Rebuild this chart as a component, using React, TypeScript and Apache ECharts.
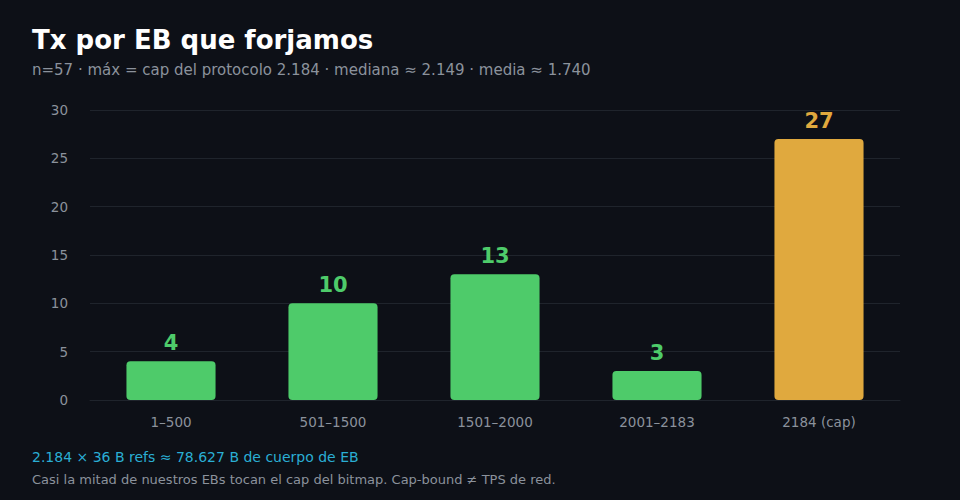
import React, { useEffect, useRef } from "react";
import * as echarts from "echarts";

const categories = ["1–500", "501–1500", "1501–2000", "2001–2183", "2184 (cap)"];
const counts = [4, 10, 13, 3, 27];
const barColors = ["#4ecb6a", "#4ecb6a", "#4ecb6a", "#4ecb6a", "#e0a93e"];
const yTicks = { min: 0, max: 30, interval: 5 };

const title = "Tx por EB que forjamos";
const subtitle = "n=57 · máx = cap del protocolo 2.184 · mediana ≈ 2.149 · media ≈ 1.740";
const note1 = "2.184 × 36 B refs ≈ 78.627 B de cuerpo de EB";
const note2 = "Casi la mitad de nuestros EBs tocan el cap del bitmap. Cap-bound ≠ TPS de red.";

const FONT = "DejaVu Sans, sans-serif";

export default function App() {
  const ref = useRef<HTMLDivElement>(null);
  useEffect(() => {
    document.body.style.margin = "0";
    document.body.style.background = "#0d1017";
    const chart = echarts.init(ref.current!, null, { renderer: "svg" });
    chart.setOption({
      animation: false,
      backgroundColor: "#0d1017",
      textStyle: { fontFamily: FONT },
      title: [
        {
          text: title,
          left: 32,
          top: 27,
          padding: 0,
          textStyle: { color: "#ffffff", fontSize: 26, fontWeight: "bold", fontFamily: FONT },
        },
        {
          text: subtitle,
          left: 32,
          top: 62,
          padding: 0,
          textStyle: { color: "#8b929c", fontSize: 15, fontWeight: "normal", fontFamily: FONT },
        },
      ],
      graphic: [
        {
          type: "text",
          left: 32,
          top: 450,
          style: { text: note1, fill: "#2aaed4", fontSize: 14, fontFamily: FONT },
        },
        {
          type: "text",
          left: 32,
          top: 473,
          style: { text: note2, fill: "#8b929c", fontSize: 13, fontFamily: FONT },
        },
      ],
      grid: { left: 90, right: 60, top: 110, bottom: 100, containLabel: false },
      xAxis: {
        type: "category",
        data: categories,
        axisLine: { show: true, lineStyle: { color: "#1f242c" } },
        axisTick: { show: false },
        axisLabel: { color: "#8b929c", fontSize: 13.5, margin: 15, fontFamily: FONT },
      },
      yAxis: {
        type: "value",
        min: yTicks.min,
        max: yTicks.max,
        interval: yTicks.interval,
        axisLine: { show: false },
        axisTick: { show: false },
        axisLabel: { color: "#8b929c", fontSize: 13.5, margin: 22, fontFamily: FONT },
        splitLine: { lineStyle: { color: "#1f242c", width: 1 } },
      },
      series: [
        {
          type: "bar",
          barWidth: "55%",
          data: counts.map((v, i) => ({
            value: v,
            itemStyle: { color: barColors[i], borderRadius: 4 },
            label: { color: barColors[i] },
          })),
          label: {
            show: true,
            position: "top",
            distance: 8,
            fontSize: 21,
            fontWeight: "bold",
            fontFamily: FONT,
          },
        },
      ],
    });
    return () => chart.dispose();
  }, []);
  return <div ref={ref} style={{ width: 960, height: 500 }} />;
}
